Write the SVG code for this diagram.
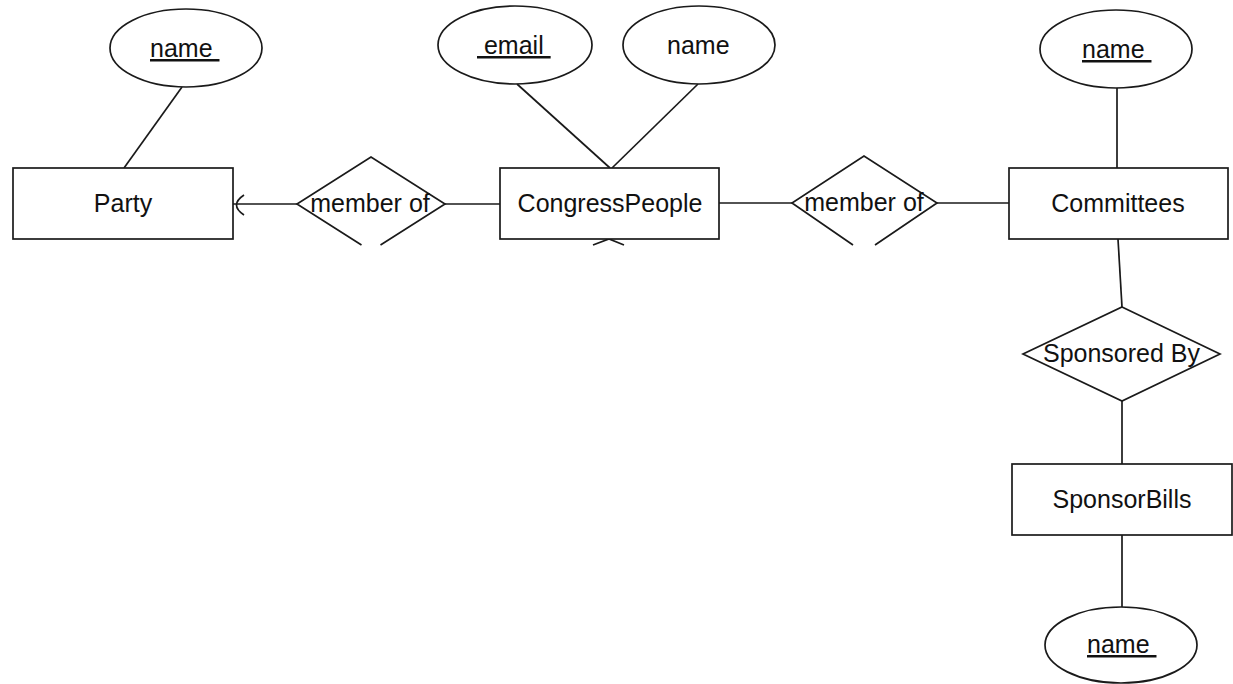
<svg xmlns="http://www.w3.org/2000/svg" width="1233" height="684" viewBox="0 0 1233 684">
<style>
.s{fill:#fff;stroke:#1a1a1a;stroke-width:1.7}
.l{fill:none;stroke:#1a1a1a;stroke-width:1.7}
.t{font-family:"Liberation Sans",Arial,sans-serif;font-size:25px;fill:#111}
.m{text-anchor:middle}
.u{text-decoration:underline}
</style>
<rect width="1233" height="684" fill="#fff"/>
<g id="connectors">
<line class="l" x1="182" y1="87" x2="124" y2="168"/>
<line class="l" x1="233" y1="204" x2="297" y2="204"/>
<path class="l" d="M244 195 Q229 205 244 215"/>
<line class="l" x1="445" y1="204" x2="500" y2="204"/>
<line class="l" x1="517" y1="84" x2="610" y2="168"/>
<line class="l" x1="698" y1="84" x2="612" y2="168"/>
<line class="l" x1="719" y1="203" x2="792" y2="203"/>
<line class="l" x1="937" y1="203" x2="1009" y2="203"/>
<line class="l" x1="1117" y1="88" x2="1117" y2="168"/>
<line class="l" x1="1118" y1="239" x2="1122" y2="307"/>
<line class="l" x1="1122" y1="401" x2="1122" y2="464"/>
<line class="l" x1="1122" y1="535" x2="1122" y2="607"/>
<polyline class="l" points="593,245 609,239 624,245"/>
</g>
<g id="party-name">
<ellipse class="s" cx="186" cy="48" rx="76" ry="39"/>
<text class="t u" x="150" y="57" xml:space="preserve">name </text>
</g>
<g id="party">
<rect class="s" x="13" y="168" width="220" height="71"/>
<text class="t m" x="123" y="212">Party</text>
</g>
<g id="member-of-1">
<polyline class="s" points="361.5,245 297,204 371,157 445,204 380.5,245"/>
<text class="t m" x="370" y="212">member of</text>
</g>
<g id="email">
<ellipse class="s" cx="515" cy="45" rx="77" ry="39"/>
<text class="t u" x="477" y="54" xml:space="preserve"> email </text>
</g>
<g id="cp-name">
<ellipse class="s" cx="699" cy="45" rx="76" ry="39"/>
<text class="t" x="667" y="54">name</text>
</g>
<g id="congresspeople">
<rect class="s" x="500" y="168" width="219" height="71"/>
<text class="t m" x="610" y="212">CongressPeople</text>
</g>
<g id="member-of-2">
<polyline class="s" points="853,245 792,203 864,156 937,203 875,245"/>
<text class="t m" x="864" y="211">member of</text>
</g>
<g id="committees-name">
<ellipse class="s" cx="1116" cy="49" rx="76" ry="39"/>
<text class="t u" x="1082" y="58" xml:space="preserve">name </text>
</g>
<g id="committees">
<rect class="s" x="1009" y="168" width="219" height="71"/>
<text class="t m" x="1118" y="212">Committees</text>
</g>
<g id="sponsored-by">
<polygon class="s" points="1122,307 1220,354 1122,401 1023,354"/>
<text class="t m" x="1121.5" y="362">Sponsored By</text>
</g>
<g id="sponsorbills">
<rect class="s" x="1012" y="464" width="220" height="71"/>
<text class="t m" x="1122" y="508">SponsorBills</text>
</g>
<g id="sponsorbills-name">
<ellipse class="s" cx="1121" cy="645" rx="76" ry="38"/>
<text class="t u" x="1087" y="653" xml:space="preserve">name </text>
</g>
</svg>
